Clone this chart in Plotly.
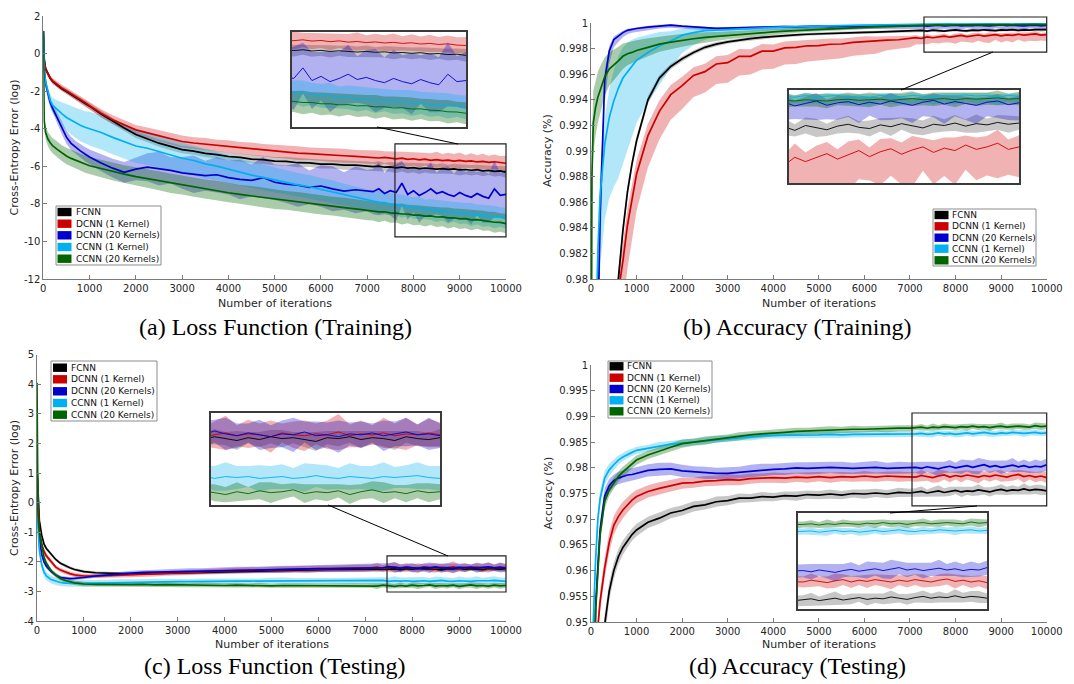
import plotly.graph_objects as go

# ---------------- data ----------------
ITER = ([0, 20, 50, 100, 150, 200, 300, 400, 500, 600, 700, 800, 900, 1000]
        + [1250, 1500, 1750, 2000, 2250, 2500, 2750, 3000, 3250, 3500, 3750, 4000,
           4250, 4500, 4750, 5000, 5250, 5500, 5750, 6000, 6250, 6500, 6750, 7000]
        + [7125, 7250, 7375, 7500, 7625, 7750, 7875, 8000, 8125, 8250, 8375, 8500,
           8625, 8750, 8875, 9000, 9125, 9250, 9375, 9500, 9625, 9750, 9875, 10000])

NAMES = ["FCNN", "DCNN (1 Kernel)", "DCNN (20 Kernels)", "CCNN (1 Kernel)", "CCNN (20 Kernels)"]

# (a) Loss, training
A_FCNN = ([1.2, -0.3, -0.8, -1.1, -1.32, -1.48, -1.7, -1.88, -2.02, -2.17, -2.32, -2.48, -2.63, -2.8]
          + [-3.22, -3.6, -3.96, -4.31, -4.54, -4.77, -4.94, -5.11, -5.19, -5.31, -5.38, -5.48, -5.53, -5.62, -5.65, -5.73, -5.74, -5.81, -5.82, -5.88, -5.89, -5.94, -5.94, -5.99]
          + [-6.02, -5.99, -6.05, -6.03, -6.08, -6.04, -6.10, -6.07, -6.12, -6.09, -6.11, -6.15, -6.12, -6.16, -6.14, -6.19, -6.17, -6.21, -6.18, -6.24, -6.22, -6.27, -6.25, -6.31])
A_DCNN1 = ([1.2, -0.35, -0.85, -1.12, -1.3, -1.45, -1.65, -1.83, -1.98, -2.13, -2.3, -2.45, -2.6, -2.78]
           + [-3.18, -3.52, -3.8, -4.06, -4.22, -4.38, -4.55, -4.68, -4.76, -4.82, -4.9, -4.96, -5.03, -5.08, -5.15, -5.2, -5.24, -5.3, -5.33, -5.38, -5.41, -5.44, -5.47, -5.5]
           + [-5.52, -5.56, -5.53, -5.58, -5.61, -5.57, -5.63, -5.6, -5.66, -5.62, -5.68, -5.65, -5.7, -5.67, -5.72, -5.69, -5.74, -5.71, -5.77, -5.74, -5.79, -5.76, -5.82, -5.84])
A_DCNN20 = ([1.2, -0.8, -1.6, -2.2, -2.6, -2.9, -3.4, -3.95, -4.45, -4.78, -5.0, -5.18, -5.35, -5.5]
            + [-5.82, -6.1, -6.32, -6.15, -6.05, -6.12, -6.22, -6.35, -6.42, -6.5, -6.45, -6.6, -6.7, -6.75, -6.6, -6.85, -6.95, -7.0, -7.12, -7.05, -7.2, -7.32, -7.25, -7.3]
            + [-7.35, -7.2, -7.45, -7.3, -7.4, -6.9, -7.5, -7.3, -7.55, -7.4, -7.2, -7.45, -7.35, -7.5, -7.6, -7.4, -7.55, -7.65, -7.45, -7.6, -7.7, -7.2, -7.55, -7.5])
A_CCNN1 = ([1.2, -0.9, -1.5, -2.1, -2.5, -2.75, -3.0, -3.2, -3.4, -3.55, -3.7, -3.82, -3.92, -4.0]
           + [-4.2, -4.46, -4.69, -4.92, -5.04, -5.22, -5.39, -5.57, -5.69, -5.87, -5.99, -6.16, -6.29, -6.47, -6.59, -6.73, -6.84, -6.99, -7.09, -7.23, -7.34, -7.51, -7.64, -7.79]
           + [-7.84, -7.92, -7.93, -8.02, -8.04, -8.12, -8.13, -8.22, -8.21, -8.3, -8.3, -8.37, -8.36, -8.44, -8.43, -8.5, -8.5, -8.57, -8.56, -8.64, -8.63, -8.7, -8.7, -8.77])
A_CCNN20 = ([1.2, -3.6, -4.2, -4.55, -4.75, -4.9, -5.1, -5.3, -5.45, -5.58, -5.68, -5.78, -5.88, -5.97]
            + [-6.12, -6.28, -6.42, -6.55, -6.66, -6.77, -6.9, -7.0, -7.1, -7.21, -7.3, -7.41, -7.5, -7.58, -7.66, -7.75, -7.82, -7.9, -7.97, -8.05, -8.12, -8.2, -8.27, -8.35]
            + [-8.38, -8.43, -8.42, -8.48, -8.49, -8.54, -8.54, -8.6, -8.6, -8.65, -8.64, -8.7, -8.69, -8.75, -8.74, -8.8, -8.79, -8.85, -8.84, -8.9, -8.92, -8.98, -8.99, -9.05])

WA_FCNN = ([0.05, 0.1, 0.12, 0.12, 0.12, 0.12, 0.12, 0.13, 0.13, 0.14, 0.14, 0.15, 0.15, 0.15]
           + [0.16, 0.17, 0.17, 0.18, 0.18, 0.19, 0.2, 0.2, 0.2, 0.21, 0.2, 0.22, 0.21, 0.22, 0.23, 0.22, 0.23, 0.24, 0.22, 0.24, 0.23, 0.25, 0.24, 0.25]
           + [0.24, 0.27, 0.23, 0.26, 0.28, 0.24, 0.27, 0.25, 0.29, 0.24, 0.27, 0.26, 0.28, 0.24, 0.27, 0.3, 0.25, 0.28, 0.26, 0.29, 0.25, 0.28, 0.27, 0.3])
WA_DCNN1 = ([0.05, 0.12, 0.15, 0.15, 0.15, 0.15, 0.16, 0.17, 0.18, 0.18, 0.19, 0.2, 0.2, 0.2]
            + [0.22, 0.24, 0.25, 0.26, 0.28, 0.3, 0.29, 0.32, 0.3, 0.33, 0.31, 0.34, 0.32, 0.35, 0.33, 0.35, 0.34, 0.36, 0.33, 0.36, 0.35, 0.37, 0.34, 0.36]
            + [0.35, 0.4, 0.33, 0.38, 0.42, 0.34, 0.39, 0.36, 0.41, 0.34, 0.38, 0.43, 0.35, 0.39, 0.37, 0.42, 0.34, 0.4, 0.36, 0.41, 0.35, 0.39, 0.37, 0.4])
WA_DCNN20 = ([0.05, 0.2, 0.25, 0.25, 0.25, 0.25, 0.3, 0.35, 0.35, 0.35, 0.35, 0.35, 0.38, 0.4]
             + [0.45, 0.5, 0.55, 0.6, 0.75, 0.9, 0.7, 0.85, 1.0, 0.8, 0.95, 0.9, 1.05, 0.85, 1.1, 0.95, 1.0, 1.15, 0.9, 1.1, 1.2, 1.0, 1.25, 1.1]
             + [1.2, 1.4, 1.1, 1.3, 1.5, 1.2, 1.35, 1.15, 1.45, 1.25, 1.4, 1.1, 1.3, 1.5, 1.2, 1.35, 1.25, 1.45, 1.15, 1.4, 1.3, 1.5, 1.2, 1.35])
WA_CCNN1 = ([0.05, 0.2, 0.25, 0.3, 0.35, 0.4, 0.5, 0.6, 0.7, 0.75, 0.8, 0.85, 0.85, 0.9]
            + [0.9, 0.9, 0.92, 0.9, 0.88, 0.85, 0.85, 0.82, 0.8, 0.78, 0.76, 0.74, 0.72, 0.7, 0.68, 0.66, 0.65, 0.63, 0.62, 0.6, 0.6, 0.58, 0.57, 0.56]
            + [0.55, 0.6, 0.52, 0.58, 0.55, 0.62, 0.53, 0.57, 0.6, 0.52, 0.56, 0.59, 0.54, 0.6, 0.52, 0.57, 0.55, 0.61, 0.53, 0.58, 0.55, 0.6, 0.52, 0.56])
WA_CCNN20 = ([0.05, 0.3, 0.35, 0.38, 0.4, 0.4, 0.42, 0.42, 0.44, 0.44, 0.45, 0.45, 0.46, 0.46]
             + [0.47, 0.48, 0.48, 0.5, 0.48, 0.5, 0.52, 0.5, 0.52, 0.5, 0.53, 0.51, 0.5, 0.53, 0.51, 0.52, 0.5, 0.53, 0.51, 0.52, 0.5, 0.53, 0.51, 0.52]
             + [0.5, 0.55, 0.48, 0.53, 0.5, 0.56, 0.49, 0.54, 0.51, 0.55, 0.48, 0.53, 0.5, 0.56, 0.49, 0.54, 0.51, 0.55, 0.48, 0.53, 0.5, 0.56, 0.49, 0.52])

# (b) Accuracy, training
B_FCNN = ([0.90, 0.91, 0.92, 0.93, 0.94, 0.95, 0.96, 0.968, 0.975, 0.980, 0.9838, 0.9868, 0.989, 0.9908]
          + [0.994, 0.9957, 0.9966, 0.9972, 0.9977, 0.9981, 0.99835, 0.99852, 0.99866, 0.99878, 0.99887, 0.99895, 0.99902, 0.99907, 0.99912, 0.99916, 0.9992, 0.99922, 0.99925, 0.99927, 0.99929, 0.99931, 0.99933, 0.99936]
          + [0.99938, 0.99942, 0.99936, 0.99944, 0.9994, 0.99937, 0.99943, 0.99946, 0.99941, 0.99939, 0.99945, 0.99942, 0.99947, 0.99943, 0.9994, 0.99946, 0.99944, 0.99948, 0.99943, 0.99947, 0.99945, 0.99949, 0.99946, 0.99948])
B_DCNN1 = ([0.90, 0.905, 0.91, 0.92, 0.93, 0.94, 0.952, 0.962, 0.971, 0.979, 0.9814, 0.9842, 0.9862, 0.9882]
           + [0.9912, 0.9931, 0.9944, 0.9951, 0.9959, 0.9962, 0.9968, 0.9969, 0.9974, 0.9974, 0.9978, 0.9978, 0.99805, 0.9981, 0.99822, 0.99824, 0.99834, 0.99836, 0.99849, 0.99856, 0.99858, 0.99866, 0.99869, 0.99876]
           + [0.99885, 0.99879, 0.99892, 0.99885, 0.99891, 0.99898, 0.99889, 0.99896, 0.99903, 0.99893, 0.99901, 0.99906, 0.99897, 0.99904, 0.99909, 0.999, 0.99907, 0.99903, 0.99912, 0.99905, 0.99909, 0.99915, 0.99905, 0.99909])
B_DCNN20 = ([0.90, 0.92, 0.94, 0.965, 0.976, 0.985, 0.9955, 0.9978, 0.9987, 0.999, 0.99925, 0.99943, 0.9995, 0.99957]
            + [0.99968, 0.99978, 0.99983, 0.99975, 0.99968, 0.99962, 0.99958, 0.9996, 0.99963, 0.99966, 0.99968, 0.9997, 0.99972, 0.99969, 0.99973, 0.99975, 0.99972, 0.99976, 0.99974, 0.99977, 0.99975, 0.99978, 0.99976, 0.99978]
            + [0.99978, 0.99982, 0.99976, 0.9998, 0.99984, 0.99977, 0.99981, 0.99983, 0.99978, 0.99982, 0.99979, 0.99984, 0.9998, 0.99977, 0.99982, 0.99985, 0.99979, 0.99983, 0.9998, 0.99977, 0.99982, 0.99984, 0.99978, 0.99981])
B_CCNN1 = ([0.90, 0.93, 0.955, 0.975, 0.982, 0.9865, 0.9905, 0.9926, 0.9939, 0.9949, 0.9957, 0.9962, 0.9967, 0.9971]
           + [0.9977, 0.9982, 0.9986, 0.99905, 0.99925, 0.9994, 0.99945, 0.9995, 0.99955, 0.9996, 0.99964, 0.99968, 0.9997, 0.99972, 0.99975, 0.99977, 0.99979, 0.9998, 0.99982, 0.99983, 0.99985, 0.99986, 0.99987, 0.99988]
           + [0.99991, 0.99992, 0.9999, 0.99993, 0.99991, 0.99992, 0.99993, 0.99991, 0.99992, 0.9999, 0.99993, 0.99992, 0.99991, 0.99993, 0.99992, 0.99991, 0.99993, 0.99992, 0.99994, 0.99992, 0.99993, 0.99991, 0.99993, 0.99992])
B_CCNN20 = ([0.96, 0.988, 0.9922, 0.9934, 0.9942, 0.9948, 0.9958, 0.9964, 0.9967, 0.99705, 0.9974, 0.9976, 0.9977, 0.99785]
            + [0.9981, 0.99835, 0.9985, 0.99865, 0.99877, 0.99887, 0.99895, 0.99903, 0.99911, 0.99918, 0.99924, 0.9993, 0.99936, 0.99941, 0.99946, 0.9995, 0.99955, 0.99959, 0.99962, 0.99966, 0.9997, 0.99973, 0.99976, 0.99979]
            + [0.99983, 0.99985, 0.99984, 0.99986, 0.99985, 0.99984, 0.99986, 0.99987, 0.99985, 0.99986, 0.99987, 0.99985, 0.99987, 0.99988, 0.99986, 0.99987, 0.99988, 0.99986, 0.99988, 0.99987, 0.99988, 0.99989, 0.99987, 0.99988])

WB_FCNN = ([0.002, 0.002, 0.002, 0.002, 0.002, 0.002, 0.0015, 0.0012, 0.001, 0.0008, 0.0006, 0.0005, 0.0004, 0.00035]
           + [0.0003, 0.00025, 0.00022, 0.0002, 0.00018, 0.00017, 0.00016, 0.00015, 0.00015, 0.00014, 0.00014, 0.00013, 0.00013, 0.00013, 0.00012, 0.00012, 0.00012, 0.00012, 0.00011, 0.00011, 0.00011, 0.00011, 0.0001, 0.0001]
           + [0.00011, 0.00014, 0.0001, 0.00013, 0.00015, 0.0001, 0.00012, 0.00014, 0.0001, 0.00013, 0.00011, 0.00015, 0.0001, 0.00013, 0.00012, 0.00014, 0.0001, 0.00013, 0.00011, 0.00015, 0.0001, 0.00012, 0.00014, 0.00011])
WB_DCNN1 = ([0.003, 0.003, 0.003, 0.003, 0.003, 0.003, 0.003, 0.003, 0.003, 0.003, 0.0028, 0.0026, 0.0024, 0.0022]
            + [0.0019, 0.0017, 0.0015, 0.0014, 0.0013, 0.00125, 0.0012, 0.0012, 0.00115, 0.0011, 0.0011, 0.00105, 0.001, 0.001, 0.00095, 0.0009, 0.0009, 0.00085, 0.0008, 0.0008, 0.00075, 0.0006, 0.00055, 0.0005]
            + [0.0004, 0.00035, 0.00045, 0.0003, 0.0004, 0.00038, 0.00032, 0.00044, 0.00036, 0.0003, 0.00042, 0.00034, 0.00038, 0.00046, 0.0003, 0.0004, 0.00035, 0.00043, 0.00031, 0.00039, 0.00036, 0.00044, 0.00032, 0.00038])
WB_DCNN20 = ([0.002, 0.003, 0.004, 0.005, 0.004, 0.003, 0.0015, 0.0008, 0.0005, 0.0004, 0.0003, 0.00025, 0.00022, 0.0002]
             + [0.0002, 0.00018, 0.00017, 0.00016, 0.00016, 0.00015, 0.00015, 0.00016, 0.00015, 0.00016, 0.00017, 0.00016, 0.00017, 0.00018, 0.00017, 0.00018, 0.00019, 0.00018, 0.00019, 0.0002, 0.00019, 0.0002, 0.00021, 0.0002]
             + [0.0002, 0.00024, 0.00018, 0.00022, 0.00026, 0.00019, 0.00023, 0.00021, 0.00025, 0.00018, 0.00022, 0.00026, 0.0002, 0.00024, 0.00019, 0.00023, 0.00027, 0.0002, 0.00022, 0.00025, 0.00019, 0.00023, 0.00021, 0.00024])
WB_CCNN1 = ([0.004, 0.004, 0.004, 0.004, 0.004, 0.004, 0.0042, 0.0045, 0.0048, 0.005, 0.0048, 0.0045, 0.004, 0.0035]
            + [0.0028, 0.0022, 0.0015, 0.001, 0.0007, 0.0005, 0.0004, 0.0003, 0.00025, 0.00022, 0.0002, 0.00018, 0.00016, 0.00015, 0.00014, 0.00013, 0.00012, 0.00011, 0.0001, 0.0001, 0.0001, 0.00009, 0.00009, 0.00008]
            + [0.00008, 0.0001, 0.00007, 0.00009, 0.00008, 0.0001, 0.00007, 0.00009, 0.00008, 0.0001, 0.00007, 0.00009, 0.00008, 0.0001, 0.00007, 0.00009, 0.00008, 0.0001, 0.00007, 0.00009, 0.00008, 0.0001, 0.00007, 0.00009])
WB_CCNN20 = ([0.004, 0.003, 0.0025, 0.0022, 0.002, 0.0018, 0.0015, 0.0013, 0.0012, 0.0011, 0.001, 0.0009, 0.00085, 0.0008]
             + [0.0007, 0.0006, 0.00055, 0.0005, 0.00045, 0.0004, 0.00035, 0.0003, 0.00028, 0.00026, 0.00024, 0.00022, 0.0002, 0.00018, 0.00017, 0.00016, 0.00015, 0.00014, 0.00013, 0.00012, 0.00011, 0.0001, 0.0001, 0.0001]
             + [0.0001, 0.00012, 0.00009, 0.00011, 0.0001, 0.00012, 0.00009, 0.00011, 0.0001, 0.00012, 0.00009, 0.00011, 0.0001, 0.00012, 0.00009, 0.00011, 0.0001, 0.00012, 0.00009, 0.00011, 0.0001, 0.00012, 0.00009, 0.00011])
B_BAND_UP = [1.0, 0.5, 0.5, 0.5, 1.0]
B_BAND_DOWN = [1.0, 1.3, 1.2, 1.4, 1.0]

# (c) Loss, testing
C_FCNN = ([1.2, 0.2, -0.6, -1.1, -1.4, -1.55, -1.75, -1.92, -2.05, -2.13, -2.2, -2.26, -2.3, -2.33]
          + [-2.37, -2.39, -2.4, -2.41, -2.4, -2.39, -2.38, -2.37, -2.36, -2.35, -2.34, -2.33, -2.32, -2.31, -2.3, -2.29, -2.29, -2.28, -2.27, -2.27, -2.26, -2.26, -2.25, -2.25]
          + [-2.24, -2.23, -2.25, -2.22, -2.24, -2.26, -2.23, -2.25, -2.22, -2.24, -2.23, -2.25, -2.27, -2.23, -2.24, -2.22, -2.25, -2.23, -2.24, -2.26, -2.22, -2.24, -2.25, -2.23])
C_DCNN1 = ([1.2, 0.0, -0.9, -1.4, -1.65, -1.8, -2.0, -2.18, -2.28, -2.35, -2.4, -2.44, -2.46, -2.48]
           + [-2.48, -2.47, -2.45, -2.44, -2.42, -2.41, -2.39, -2.37, -2.35, -2.34, -2.33, -2.31, -2.3, -2.29, -2.28, -2.27, -2.26, -2.25, -2.25, -2.24, -2.23, -2.23, -2.22, -2.22]
           + [-2.21, -2.19, -2.22, -2.2, -2.18, -2.21, -2.19, -2.2, -2.22, -2.18, -2.2, -2.21, -2.19, -2.2, -2.17, -2.21, -2.19, -2.2, -2.18, -2.21, -2.19, -2.2, -2.18, -2.2])
C_DCNN20 = ([1.2, -0.3, -1.2, -1.75, -2.0, -2.15, -2.32, -2.45, -2.53, -2.56, -2.57, -2.56, -2.55, -2.53]
            + [-2.48, -2.44, -2.41, -2.38, -2.36, -2.35, -2.34, -2.33, -2.32, -2.31, -2.3, -2.29, -2.28, -2.27, -2.26, -2.26, -2.25, -2.24, -2.24, -2.23, -2.23, -2.22, -2.22, -2.21]
            + [-2.2, -2.18, -2.2, -2.16, -2.19, -2.21, -2.18, -2.2, -2.22, -2.19, -2.2, -2.17, -2.21, -2.2, -2.22, -2.19, -2.2, -2.18, -2.21, -2.19, -2.17, -2.2, -2.19, -2.21])
C_CCNN1 = ([1.2, -0.8, -1.6, -2.1, -2.35, -2.48, -2.6, -2.66, -2.7, -2.72, -2.73, -2.73, -2.73, -2.73]
           + [-2.72, -2.71, -2.7, -2.7, -2.69, -2.68, -2.68, -2.67, -2.67, -2.66, -2.66, -2.66, -2.65, -2.65, -2.65, -2.64, -2.64, -2.65, -2.64, -2.64, -2.65, -2.64, -2.64, -2.64]
           + [-2.64, -2.65, -2.63, -2.66, -2.64, -2.65, -2.64, -2.66, -2.65, -2.64, -2.66, -2.65, -2.63, -2.65, -2.66, -2.64, -2.65, -2.66, -2.64, -2.65, -2.64, -2.63, -2.65, -2.66])
C_CCNN20 = ([4.05, -0.3, -1.0, -1.5, -1.85, -2.05, -2.3, -2.45, -2.56, -2.63, -2.68, -2.71, -2.73, -2.75]
            + [-2.76, -2.77, -2.77, -2.77, -2.76, -2.78, -2.77, -2.78, -2.79, -2.78, -2.79, -2.8, -2.79, -2.8, -2.79, -2.81, -2.8, -2.8, -2.81, -2.8, -2.81, -2.8, -2.82, -2.81]
            + [-2.8, -2.82, -2.79, -2.81, -2.83, -2.8, -2.82, -2.79, -2.81, -2.8, -2.78, -2.82, -2.8, -2.81, -2.79, -2.83, -2.8, -2.78, -2.81, -2.8, -2.82, -2.79, -2.81, -2.8])

WC_FCNN = ([0.05, 0.1, 0.1, 0.08, 0.07, 0.06, 0.05, 0.05, 0.05, 0.05, 0.05, 0.05, 0.05, 0.05]
           + [0.05, 0.05, 0.06, 0.05, 0.06, 0.05, 0.06, 0.06, 0.05, 0.06, 0.06, 0.07, 0.06, 0.06, 0.07, 0.06, 0.07, 0.06, 0.07, 0.07, 0.06, 0.07, 0.07, 0.07]
           + [0.07, 0.09, 0.06, 0.08, 0.07, 0.1, 0.06, 0.08, 0.07, 0.09, 0.06, 0.08, 0.1, 0.07, 0.08, 0.06, 0.09, 0.07, 0.08, 0.1, 0.06, 0.08, 0.07, 0.09])
WC_DCNN1 = ([0.05, 0.15, 0.12, 0.1, 0.1, 0.09, 0.08, 0.07, 0.07, 0.07, 0.07, 0.07, 0.07, 0.07]
            + [0.07, 0.07, 0.08, 0.08, 0.08, 0.09, 0.08, 0.09, 0.09, 0.1, 0.09, 0.1, 0.1, 0.11, 0.1, 0.11, 0.1, 0.11, 0.12, 0.11, 0.12, 0.11, 0.12, 0.12]
            + [0.12, 0.16, 0.1, 0.14, 0.18, 0.11, 0.15, 0.12, 0.17, 0.1, 0.14, 0.16, 0.11, 0.15, 0.19, 0.12, 0.14, 0.1, 0.16, 0.13, 0.17, 0.11, 0.15, 0.13])
WC_DCNN20 = ([0.05, 0.15, 0.12, 0.1, 0.09, 0.08, 0.07, 0.06, 0.06, 0.06, 0.06, 0.06, 0.06, 0.06]
             + [0.06, 0.07, 0.07, 0.08, 0.08, 0.08, 0.09, 0.09, 0.1, 0.09, 0.1, 0.1, 0.11, 0.1, 0.11, 0.11, 0.12, 0.11, 0.12, 0.11, 0.12, 0.12, 0.13, 0.12]
             + [0.13, 0.11, 0.15, 0.12, 0.17, 0.13, 0.1, 0.16, 0.12, 0.14, 0.18, 0.11, 0.15, 0.13, 0.17, 0.12, 0.14, 0.1, 0.16, 0.13, 0.15, 0.11, 0.17, 0.13])
WC_CCNN1 = ([0.05, 0.15, 0.15, 0.15, 0.15, 0.14, 0.13, 0.12, 0.12, 0.11, 0.11, 0.11, 0.11, 0.11]
            + [0.11, 0.1, 0.11, 0.1, 0.1, 0.11, 0.1, 0.1, 0.09, 0.1, 0.1, 0.09, 0.1, 0.1, 0.09, 0.1, 0.11, 0.1, 0.1, 0.09, 0.1, 0.1, 0.11, 0.1]
            + [0.12, 0.14, 0.11, 0.13, 0.15, 0.12, 0.11, 0.14, 0.12, 0.13, 0.11, 0.15, 0.12, 0.13, 0.11, 0.14, 0.12, 0.13, 0.15, 0.11, 0.12, 0.14, 0.12, 0.13])
WC_CCNN20 = ([0.1, 0.15, 0.12, 0.1, 0.1, 0.09, 0.08, 0.08, 0.08, 0.08, 0.08, 0.08, 0.08, 0.08]
             + [0.07, 0.07, 0.08, 0.07, 0.08, 0.07, 0.08, 0.08, 0.07, 0.08, 0.07, 0.08, 0.08, 0.07, 0.08, 0.07, 0.08, 0.08, 0.07, 0.08, 0.07, 0.08, 0.08, 0.07]
             + [0.08, 0.1, 0.07, 0.09, 0.08, 0.1, 0.07, 0.09, 0.11, 0.08, 0.07, 0.1, 0.08, 0.09, 0.07, 0.1, 0.08, 0.09, 0.11, 0.07, 0.09, 0.08, 0.1, 0.08])

# (d) Accuracy, testing
D_FCNN = ([0.85, 0.88, 0.9, 0.92, 0.93, 0.94, 0.9495, 0.956, 0.96, 0.9627, 0.9645, 0.9658, 0.967, 0.9679]
          + [0.9694, 0.9702, 0.9712, 0.9717, 0.9725, 0.9728, 0.9734, 0.9736, 0.9741, 0.9741, 0.9744, 0.9743, 0.9746, 0.9745, 0.9748, 0.9747, 0.9749, 0.9747, 0.975, 0.9749, 0.9751, 0.9749, 0.9752, 0.9751]
          + [0.9752, 0.9754, 0.9751, 0.9753, 0.9755, 0.9752, 0.9754, 0.9756, 0.9753, 0.9755, 0.9754, 0.9757, 0.9755, 0.9753, 0.9756, 0.9758, 0.9755, 0.9757, 0.9756, 0.9759, 0.9756, 0.9758, 0.9757, 0.9755])
D_DCNN1 = ([0.85, 0.88, 0.9, 0.925, 0.949, 0.954, 0.9605, 0.9655, 0.9688, 0.9705, 0.9718, 0.9728, 0.9737, 0.9744]
           + [0.9754, 0.976, 0.9765, 0.977, 0.9771, 0.9774, 0.9775, 0.9777, 0.9776, 0.9779, 0.978, 0.9781, 0.978, 0.9782, 0.9781, 0.9783, 0.9781, 0.9783, 0.9782, 0.9784, 0.9782, 0.9784, 0.9783, 0.9783]
           + [0.9782, 0.9785, 0.9783, 0.9781, 0.9784, 0.9786, 0.9782, 0.9785, 0.9783, 0.9786, 0.9784, 0.9782, 0.9785, 0.9783, 0.9786, 0.9784, 0.9782, 0.9785, 0.9787, 0.9783, 0.9785, 0.9782, 0.9784, 0.9781])
D_DCNN20 = ([0.85, 0.9, 0.93, 0.953, 0.962, 0.968, 0.9745, 0.9765, 0.9775, 0.978, 0.9783, 0.9786, 0.9787, 0.9789]
            + [0.9795, 0.9797, 0.9798, 0.9794, 0.9792, 0.979, 0.9789, 0.9789, 0.9791, 0.9794, 0.9796, 0.9797, 0.9798, 0.98, 0.9799, 0.98, 0.9801, 0.98, 0.9799, 0.98, 0.9801, 0.9799, 0.98, 0.98]
            + [0.9801, 0.9799, 0.9802, 0.98, 0.9798, 0.9801, 0.9803, 0.98, 0.9802, 0.9804, 0.9801, 0.9803, 0.9806, 0.9802, 0.9804, 0.9801, 0.9803, 0.9805, 0.9802, 0.9804, 0.9801, 0.9803, 0.9802, 0.9806])
D_CCNN1 = ([0.85, 0.91, 0.95, 0.962, 0.97, 0.974, 0.978, 0.9796, 0.9806, 0.9815, 0.9821, 0.9826, 0.983, 0.9834]
           + [0.9838, 0.9843, 0.9846, 0.9848, 0.985, 0.9853, 0.9855, 0.9857, 0.9859, 0.986, 0.9862, 0.9863, 0.9863, 0.9864, 0.9864, 0.9864, 0.9865, 0.9864, 0.9865, 0.9865, 0.9866, 0.9865, 0.9866, 0.9866]
           + [0.9866, 0.9867, 0.9865, 0.9866, 0.9868, 0.9866, 0.9867, 0.9865, 0.9867, 0.9868, 0.9866, 0.9867, 0.9869, 0.9867, 0.9866, 0.9868, 0.9867, 0.9869, 0.9868, 0.9867, 0.9868, 0.9869, 0.9867, 0.9868])
D_CCNN20 = ([0.85, 0.9, 0.93, 0.952, 0.961, 0.967, 0.9735, 0.9757, 0.977, 0.9783, 0.9792, 0.98, 0.9808, 0.9815]
            + [0.9825, 0.9833, 0.984, 0.9847, 0.985, 0.9853, 0.9856, 0.9858, 0.9861, 0.9864, 0.9866, 0.9867, 0.9869, 0.9871, 0.9872, 0.9873, 0.9874, 0.9874, 0.9875, 0.9875, 0.9876, 0.9876, 0.9877, 0.9877]
            + [0.9878, 0.9879, 0.9877, 0.9879, 0.9878, 0.988, 0.9879, 0.9878, 0.988, 0.9879, 0.9881, 0.9879, 0.988, 0.9878, 0.988, 0.9881, 0.9879, 0.988, 0.9881, 0.988, 0.9879, 0.9882, 0.988, 0.9881])

WD_FCNN = ([0.002, 0.002, 0.002, 0.002, 0.002, 0.002, 0.002, 0.0018, 0.0016, 0.0015, 0.0014, 0.0013, 0.0012, 0.0012]
           + [0.0011, 0.0011, 0.001, 0.001, 0.001, 0.0009, 0.001, 0.0009, 0.0009, 0.0008, 0.0009, 0.0008, 0.0008, 0.0009, 0.0008, 0.0008, 0.0009, 0.0008, 0.0008, 0.0009, 0.0008, 0.0008, 0.0009, 0.0008]
           + [0.0008, 0.001, 0.0007, 0.0009, 0.0011, 0.0008, 0.0009, 0.0007, 0.001, 0.0008, 0.0009, 0.0011, 0.0007, 0.0009, 0.0008, 0.001, 0.0008, 0.0009, 0.0007, 0.0011, 0.0008, 0.0009, 0.001, 0.0008])
WD_DCNN1 = ([0.002, 0.002, 0.002, 0.002, 0.002, 0.002, 0.002, 0.002, 0.0018, 0.0017, 0.0016, 0.0015, 0.0014, 0.0013]
            + [0.0012, 0.0012, 0.0011, 0.0011, 0.001, 0.001, 0.001, 0.0011, 0.001, 0.001, 0.0009, 0.001, 0.001, 0.0009, 0.001, 0.0009, 0.001, 0.0009, 0.0009, 0.001, 0.0009, 0.0009, 0.001, 0.0009]
            + [0.0009, 0.0011, 0.0008, 0.001, 0.0012, 0.0009, 0.001, 0.0008, 0.0011, 0.0009, 0.001, 0.0012, 0.0008, 0.001, 0.0009, 0.0011, 0.0008, 0.001, 0.0009, 0.0012, 0.0008, 0.001, 0.0009, 0.0011])
WD_DCNN20 = ([0.002, 0.002, 0.002, 0.002, 0.002, 0.0018, 0.0015, 0.0013, 0.0012, 0.0012, 0.0012, 0.0012, 0.0012, 0.0012]
             + [0.0012, 0.0013, 0.0012, 0.0012, 0.0011, 0.0012, 0.0011, 0.0012, 0.0011, 0.0012, 0.0012, 0.0011, 0.0012, 0.0011, 0.0012, 0.0012, 0.0011, 0.0012, 0.0011, 0.0012, 0.0012, 0.0011, 0.0012, 0.0011]
             + [0.0011, 0.0013, 0.001, 0.0012, 0.0015, 0.0011, 0.0012, 0.001, 0.0014, 0.0011, 0.0013, 0.0016, 0.0011, 0.0012, 0.001, 0.0013, 0.0011, 0.0014, 0.001, 0.0012, 0.0011, 0.0013, 0.0011, 0.0012])
WD_CCNN1 = ([0.002, 0.002, 0.002, 0.002, 0.0018, 0.0016, 0.0014, 0.0012, 0.001, 0.0009, 0.0008, 0.0008, 0.0007, 0.0007]
            + [0.0007, 0.0007, 0.0006, 0.0007, 0.0006, 0.0006, 0.0007, 0.0006, 0.0006, 0.0007, 0.0006, 0.0006, 0.0006, 0.0007, 0.0006, 0.0006, 0.0007, 0.0006, 0.0006, 0.0006, 0.0007, 0.0006, 0.0006, 0.0006]
            + [0.0005, 0.0006, 0.0005, 0.0007, 0.0005, 0.0006, 0.0005, 0.0006, 0.0007, 0.0005, 0.0006, 0.0005, 0.0006, 0.0007, 0.0005, 0.0006, 0.0005, 0.0006, 0.0005, 0.0007, 0.0005, 0.0006, 0.0005, 0.0006])
WD_CCNN20 = ([0.002, 0.002, 0.002, 0.002, 0.0018, 0.0016, 0.0014, 0.0012, 0.0011, 0.001, 0.001, 0.0009, 0.0009, 0.0009]
             + [0.0008, 0.0008, 0.0008, 0.0008, 0.0007, 0.0008, 0.0007, 0.0007, 0.0008, 0.0007, 0.0007, 0.0007, 0.0007, 0.0007, 0.0006, 0.0007, 0.0007, 0.0006, 0.0007, 0.0006, 0.0006, 0.0007, 0.0006, 0.0006]
             + [0.0005, 0.0006, 0.0005, 0.0007, 0.0005, 0.0006, 0.0005, 0.0006, 0.0005, 0.0007, 0.0005, 0.0006, 0.0005, 0.0006, 0.0005, 0.0007, 0.0005, 0.0006, 0.0005, 0.0006, 0.0005, 0.0006, 0.0007, 0.0005])

X_TICKS = [0, 1000, 2000, 3000, 4000, 5000, 6000, 7000, 8000, 9000, 10000]
X_TICK_TEXT = ["0", "1000", "2000", "3000", "4000", "5000", "6000", "7000", "8000", "9000", "10000"]
A_YTICKS = [2, 0, -2, -4, -6, -8, -10, -12]
A_YTEXT = ["2", "0", "-2", "-4", "-6", "-8", "-10", "-12"]
B_YTICKS = [1.0, 0.998, 0.996, 0.994, 0.992, 0.99, 0.988, 0.986, 0.984, 0.982, 0.98]
B_YTEXT = ["1", "0.998", "0.996", "0.994", "0.992", "0.99", "0.988", "0.986", "0.984", "0.982", "0.98"]
C_YTICKS = [5, 4, 3, 2, 1, 0, -1, -2, -3, -4]
C_YTEXT = ["5", "4", "3", "2", "1", "0", "-1", "-2", "-3", "-4"]
D_YTICKS = [1.0, 0.995, 0.99, 0.985, 0.98, 0.975, 0.97, 0.965, 0.96, 0.955, 0.95]
D_YTEXT = ["1", "0.995", "0.99", "0.985", "0.98", "0.975", "0.97", "0.965", "0.96", "0.955", "0.95"]

CAPTIONS = ["(a) Loss Function (Training)", "(b) Accuracy (Training)",
            "(c) Loss Function (Testing)", "(d) Accuracy (Testing)"]
Y_TITLES = ["Cross-Entropy Error (log)", "Accuracy (%)", "Cross-Entropy Error (log)", "Accuracy (%)"]
X_TITLE = "Number of iterations"

# ---------------- style / layout ----------------
COLORS = ["#000000", "#cc0000", "#0000cc", "#00b0f0", "#006400"]
BAND_RGB = ["0,0,0", "204,0,0", "0,0,204", "0,176,240", "0,100,0"]
BAND_ALPHA = [0.22, 0.3, 0.3, 0.3, 0.33]

W, H = 1074, 684
PAGE_OFFSET = 8  # the page body margin shifts the figure by this many pixels

def PX(x): return (x - PAGE_OFFSET) / W
def PY(y): return 1 - (y - PAGE_OFFSET) / H

PANELS = [
    dict(series=[A_FCNN, A_DCNN1, A_DCNN20, A_CCNN1, A_CCNN20],
         widths=[WA_FCNN, WA_DCNN1, WA_DCNN20, WA_CCNN1, WA_CCNN20],
         up=[1] * 5, down=[1] * 5,
         box=(43.3, 506.0, 16.0, 279.0), yr=[-12, 2], yt=(A_YTICKS, A_YTEXT),
         inset=(292, 466, 32, 127), ixr=[7600, 10000], iyr=[-9.7, -5.2],
         rect=([7600, 10000], [-9.76, -4.81]), conn=((377, 127), (458, 144)),
         legend=(56, 161, 206, 265), rows=[212, 223.7, 235.3, 247, 258.7], patch=(57.5, 71.5), tx=73.5,
         cap=(275, 327), xt=(274.7, 303), ytl=(14, 147.5)),
    dict(series=[B_FCNN, B_DCNN1, B_DCNN20, B_CCNN1, B_CCNN20],
         widths=[WB_FCNN, WB_DCNN1, WB_DCNN20, WB_CCNN1, WB_CCNN20],
         up=B_BAND_UP, down=B_BAND_DOWN,
         box=(591.0, 1046.7, 23.0, 279.0), yr=[0.98, 1.0], yt=(B_YTICKS, B_YTEXT),
         inset=(789, 1019, 90, 183), ixr=[7307, 10000], iyr=[0.9985, 1.00002],
         rect=([7307, 10000], [0.99773, 1.00047]), conn=((901, 90), (993, 52)),
         legend=(933, 1036, 209, 266), rows=[215, 226.3, 237.7, 248.7, 260.3], patch=(934.5, 948.5), tx=950,
         cap=(797, 327), xt=(819, 303), ytl=(548, 151)),
    dict(series=[C_FCNN, C_DCNN1, C_DCNN20, C_CCNN1, C_CCNN20],
         widths=[WC_FCNN, WC_DCNN1, WC_DCNN20, WC_CCNN1, WC_CCNN20],
         up=[1] * 5, down=[1] * 5,
         box=(37.0, 506.0, 354.7, 621.0), yr=[-4, 5], yt=(C_YTICKS, C_YTEXT),
         inset=(211, 440, 413, 505), ixr=[7463, 10000], iyr=[-2.94, -1.97],
         rect=([7463, 10000], [-3.02, -1.8]), conn=((328, 505), (448, 556)),
         legend=(51, 157, 361, 421), rows=[367.7, 379.3, 391.3, 403, 414.7], patch=(53, 67), tx=68.5,
         cap=(275, 666), xt=(271.5, 644), ytl=(14, 488)),
    dict(series=[D_FCNN, D_DCNN1, D_DCNN20, D_CCNN1, D_CCNN20],
         widths=[WD_FCNN, WD_DCNN1, WD_DCNN20, WD_CCNN1, WD_CCNN20],
         up=[1] * 5, down=[1] * 5,
         box=(591.0, 1046.7, 365.0, 622.0), yr=[0.95, 1.0], yt=(D_YTICKS, D_YTEXT),
         inset=(798, 987, 513, 609), ixr=[7044, 10000], iyr=[0.9737, 0.9897],
         rect=([7044, 10000], [0.9726, 0.99066]), conn=((890, 513), (977, 506)),
         legend=(608, 712, 361, 418), rows=[366.3, 377.7, 389, 400.3, 411.3], patch=(609.5, 623.5), tx=625,
         cap=(797, 666), xt=(819, 644), ytl=(548, 493.5)),
]

for p in PANELS:
    for s, w in zip(p["series"], p["widths"]):
        assert len(s) == len(ITER) and len(w) == len(ITER), (len(s), len(w))

TICKFONT = dict(family="DejaVu Sans", size=10, color="#262626")
AXCOL = "#7a7a7a"

fig = go.Figure()
layout = dict(width=W, height=H, margin=dict(l=0, r=0, t=0, b=0, pad=0, autoexpand=False),
              paper_bgcolor="white", plot_bgcolor="white", showlegend=False,
              hovermode=False)
shapes, annotations = [], []

for k, p in enumerate(PANELS):
    mi, ii = k + 1, k + 5
    mx = "x" if mi == 1 else f"x{mi}"
    my = "y" if mi == 1 else f"y{mi}"
    ix, iy = f"x{ii}", f"y{ii}"
    x0, x1, y0, y1 = p["box"]
    layout["xaxis" if mi == 1 else f"xaxis{mi}"] = dict(
        domain=[PX(x0), PX(x1)], range=[0, 10000], tickvals=X_TICKS, ticktext=X_TICK_TEXT,
        ticks="inside", ticklen=4, tickwidth=1, tickcolor=AXCOL, showline=True, linecolor=AXCOL,
        linewidth=1, showgrid=False, zeroline=False, tickfont=TICKFONT, anchor=my, fixedrange=True,
        automargin=False)
    layout["yaxis" if mi == 1 else f"yaxis{mi}"] = dict(
        domain=[PY(y1), PY(y0)], range=p["yr"], tickvals=p["yt"][0], ticktext=p["yt"][1],
        ticks="inside", ticklen=4, tickwidth=1, tickcolor=AXCOL, showline=True, linecolor=AXCOL,
        linewidth=1, showgrid=False, zeroline=False, tickfont=TICKFONT, anchor=mx, fixedrange=True,
        automargin=False)
    ax0, ax1, ay0, ay1 = p["inset"]
    layout[f"xaxis{ii}"] = dict(domain=[PX(ax0), PX(ax1)], range=p["ixr"], showticklabels=False,
                                ticks="", showline=True, mirror=True, linecolor="#3a3a3a", linewidth=1.6,
                                showgrid=False, zeroline=False, anchor=iy, fixedrange=True, automargin=False)
    layout[f"yaxis{ii}"] = dict(domain=[PY(ay1), PY(ay0)], range=p["iyr"], showticklabels=False,
                                ticks="", showline=True, mirror=True, linecolor="#3a3a3a", linewidth=1.6,
                                showgrid=False, zeroline=False, anchor=ix, fixedrange=True, automargin=False)

    for (xa, ya, lw) in [(mx, my, 1.7), (ix, iy, 0.9)]:
        for i in range(5):
            s, w = p["series"][i], p["widths"][i]
            upper = [m + d * p["up"][i] for m, d in zip(s, w)]
            lower = [m - d * p["down"][i] for m, d in zip(s, w)]
            fig.add_trace(go.Scatter(
                x=ITER + ITER[::-1], y=upper + lower[::-1], fill="toself", mode="lines",
                line=dict(width=0), fillcolor=f"rgba({BAND_RGB[i]},{BAND_ALPHA[i]})",
                xaxis=xa, yaxis=ya, hoverinfo="skip"))
        for i in range(5):
            fig.add_trace(go.Scatter(
                x=ITER, y=p["series"][i], mode="lines", name=NAMES[i],
                line=dict(color=COLORS[i], width=lw), xaxis=xa, yaxis=ya))

    def dx(v):
        return PX(x0 + (v - 0) / 10000 * (x1 - x0))
    def dy(v):
        return PY(y1 - (v - p["yr"][0]) / (p["yr"][1] - p["yr"][0]) * (y1 - y0))
    (rx0, rx1), (ry0, ry1) = p["rect"]
    shapes.append(dict(type="rect", xref="paper", yref="paper", x0=dx(rx0), x1=dx(rx1),
                       y0=dy(ry0), y1=dy(ry1), line=dict(color="#202020", width=1.2), layer="above"))
    (cx0, cy0), (cx1, cy1) = p["conn"]
    shapes.append(dict(type="line", xref="paper", yref="paper", x0=PX(cx0), y0=PY(cy0),
                       x1=PX(cx1), y1=PY(cy1), line=dict(color="#000000", width=1), layer="above"))

    lx0, lx1, ly0, ly1 = p["legend"]
    shapes.append(dict(type="rect", xref="paper", yref="paper", x0=PX(lx0), x1=PX(lx1),
                       y0=PY(ly1), y1=PY(ly0), line=dict(color="#8c8c8c", width=1),
                       fillcolor="white", layer="above"))
    px0, px1 = p["patch"]
    for i, ry in enumerate(p["rows"]):
        shapes.append(dict(type="rect", xref="paper", yref="paper", x0=PX(px0), x1=PX(px1),
                           y0=PY(ry + 4.2), y1=PY(ry - 4.2), line=dict(width=0),
                           fillcolor=COLORS[i], layer="above"))
        annotations.append(dict(text=NAMES[i], xref="paper", yref="paper", x=PX(p["tx"]), y=PY(ry),
                                xanchor="left", yanchor="middle", showarrow=False,
                                font=dict(family="DejaVu Sans", size=9, color="#111111")))

    annotations.append(dict(text=X_TITLE, xref="paper", yref="paper", x=PX(p["xt"][0]), y=PY(p["xt"][1]),
                            xanchor="center", yanchor="middle", showarrow=False,
                            font=dict(family="DejaVu Sans", size=11, color="#262626")))
    annotations.append(dict(text=Y_TITLES[k], xref="paper", yref="paper", x=PX(p["ytl"][0]), y=PY(p["ytl"][1]),
                            xanchor="center", yanchor="middle", showarrow=False, textangle=-90,
                            font=dict(family="DejaVu Sans", size=11, color="#262626")))
    annotations.append(dict(text=CAPTIONS[k], xref="paper", yref="paper", x=PX(p["cap"][0]), y=PY(p["cap"][1]),
                            xanchor="center", yanchor="middle", showarrow=False,
                            font=dict(family="Liberation Serif", size=24, color="#000000")))

layout["shapes"] = shapes
layout["annotations"] = annotations
fig.update_layout(**layout)
fig.write_html("out.html")
